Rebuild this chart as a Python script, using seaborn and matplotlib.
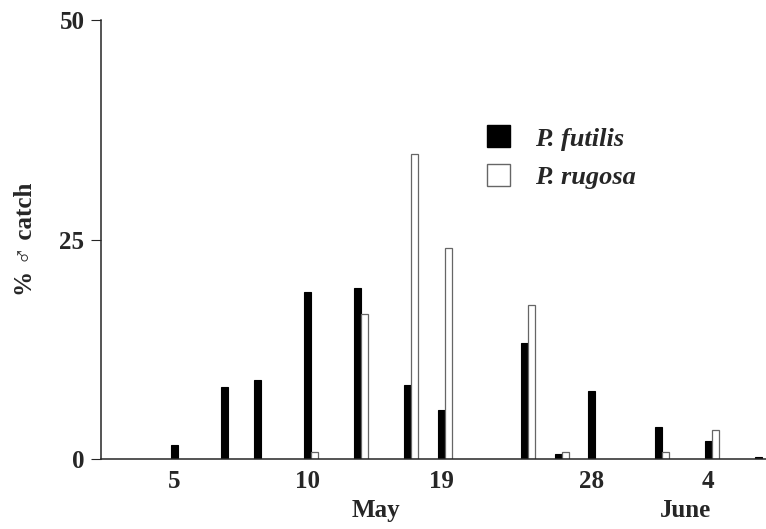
import numpy as np
import pandas as pd
import matplotlib
matplotlib.use("Agg")
import matplotlib.pyplot as plt
import seaborn as sns
from matplotlib.patches import Patch

# sampling positions (chart units) and % male catch
futilis_pos = [0, 3, 5, 8, 11, 14, 16, 21, 23, 25, 29, 32, 35]
futilis_val = [1.6, 8.2, 9.0, 19.0, 19.5, 8.5, 5.6, 13.2, 0.6, 7.8, 3.7, 2.1, 0.3]
rugosa_pos = [8, 11, 14, 16, 21, 23, 29, 32]
rugosa_val = [0.8, 16.5, 34.7, 24.1, 17.5, 0.85, 0.85, 3.3]

tick_pos = [0, 8, 16, 25, 32]
tick_labels = ["5", "10", "19", "28", "4"]
months = [("May", 12.1), ("June", 30.6)]

BAR_W = 0.42
FS = 18

sns.set_style("ticks")
plt.rcParams["font.family"] = ["Liberation Serif", "Noto Sans CJK JP", "DejaVu Sans"]
plt.rcParams["font.weight"] = "bold"

fig = plt.figure(figsize=(7.66, 5.29), dpi=100)
ax = fig.add_axes([0.132, 0.132, 0.868, 0.83])

df_f = pd.DataFrame({"pos": futilis_pos, "val": futilis_val})
df_r = pd.DataFrame({"pos": np.array(rugosa_pos) + BAR_W, "val": rugosa_val})

sns.barplot(data=df_f, x="pos", y="val", native_scale=True, width=BAR_W / 2,
            color="black", edgecolor="black", linewidth=0.8, errorbar=None, ax=ax)
sns.barplot(data=df_r, x="pos", y="val", native_scale=True, width=BAR_W / 2,
            color="white", edgecolor="#666666", linewidth=0.9, errorbar=None,
            saturation=1, ax=ax)

ax.set_xlim(-4.37, 35.45)
ax.set_ylim(0, 50)
ax.set_yticks([0, 25, 50])
ax.set_xticks(tick_pos)
ax.set_xticklabels(tick_labels)
ax.tick_params(axis="x", length=0, pad=8, labelsize=FS)
ax.tick_params(axis="y", length=7, width=0.8, pad=5, labelsize=FS)
for lab in ax.get_xticklabels() + ax.get_yticklabels():
    lab.set_fontweight("bold")

sns.despine(ax=ax)
ax.spines["left"].set_linewidth(1.1)
ax.spines["bottom"].set_linewidth(1.1)

ax.set_xlabel("")
ax.set_ylabel("% \u2642 catch", fontsize=FS, fontweight="bold", labelpad=16)

for name, x in months:
    ax.text(x, -0.118, name, transform=ax.get_xaxis_transform(), ha="center",
            va="center", fontsize=FS, fontweight="bold")

handles = [Patch(facecolor="black", edgecolor="black", label="P. futilis"),
           Patch(facecolor="white", edgecolor="#666666", label="P. rugosa")]
leg = ax.legend(handles=handles, loc="upper left", bbox_to_anchor=(0.581, 0.76),
                frameon=False, handlelength=0.85, handleheight=0.9,
                handletextpad=0.95, labelspacing=0.5, borderpad=0, borderaxespad=0,
                prop={"size": 19, "weight": "bold", "style": "italic"})

plt.savefig("out.png", dpi=100)
plt.close()
